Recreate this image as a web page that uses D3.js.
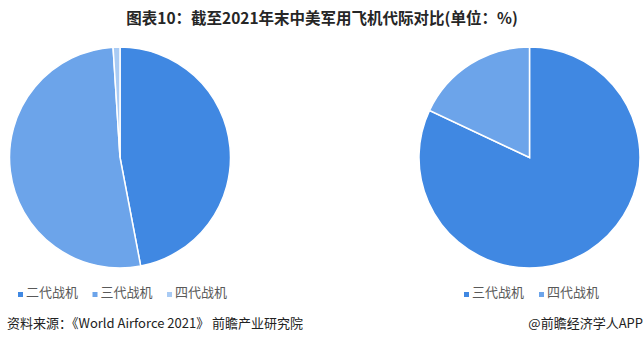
<!DOCTYPE html>
<html>
<head>
<meta charset="utf-8">
<script src="https://cdn.jsdelivr.net/npm/d3@7"></script>
<style>
  body { margin: 0; background: #fff; }
  svg { display: block; font-family: "Noto Sans CJK SC", "Noto Sans", sans-serif; }
</style>
</head>
<body>
<svg id="chart" width="644" height="342"></svg>
<script>
const titleText = "图表10：截至2021年末中美军用飞机代际对比(单位：%)";
const sourceText = "资料来源：《World Airforce 2021》 前瞻产业研究院";
const creditText = "@前瞻经济学人APP";

// left pie (China)
const leftCats   = ["二代战机", "三代战机", "四代战机"];
const leftValues = [47, 52, 1];
// right pie (US)
const rightCats   = ["三代战机", "四代战机"];
const rightValues = [82, 18];

const palette = ["#4088e2", "#6ca4ea", "#a9cbf4"];

const svg = d3.select("#chart");

svg.append("text")
    .attr("x", 322).attr("y", 24)
    .attr("text-anchor", "middle")
    .attr("font-size", 15.5)
    .attr("font-weight", "bold")
    .attr("fill", "#262626")
    .text(titleText);

function drawPie(cx, cy, r, cats, values, legend) {
    let data = cats.map((c, i) => ({cat: c, value: values[i]}));
    let pie = d3.pie().sort(null).value(d => d.value);
    let arc = d3.arc().innerRadius(0).outerRadius(r);
    let color = d3.scaleOrdinal(cats, palette);

    let g = svg.append("g").attr("transform", `translate(${cx},${cy})`);
    g.selectAll("path")
        .data(pie(data))
        .join("path")
        .attr("d", arc)
        .attr("fill", d => color(d.data.cat))
        .attr("stroke", "#fff")
        .attr("stroke-width", 1.5);

    let lg = svg.append("g").attr("transform", `translate(${legend.x},${legend.y})`);
    let items = lg.selectAll("g")
        .data(cats)
        .join("g")
        .attr("transform", (d, i) => `translate(${i * legend.step},0)`);
    items.append("rect")
        .attr("x", 0).attr("y", -5)
        .attr("width", 5).attr("height", 5)
        .attr("fill", d => color(d));
    items.append("text")
        .attr("x", 8).attr("y", 0)
        .attr("font-size", 13)
        .attr("fill", "#595959")
        .text(d => d);
}

drawPie(120, 157.5, 110.5, leftCats, leftValues, {x: 18, y: 297, step: 74.5});
drawPie(529.5, 157.5, 110.5, rightCats, rightValues, {x: 464, y: 297, step: 75});

svg.append("text")
    .attr("x", 7).attr("y", 328)
    .attr("font-size", 13)
    .attr("fill", "#222")
    .text(sourceText);

svg.append("text")
    .attr("x", 643).attr("y", 328)
    .attr("text-anchor", "end")
    .attr("font-size", 13)
    .attr("fill", "#222")
    .text(creditText);
</script>
</body>
</html>
